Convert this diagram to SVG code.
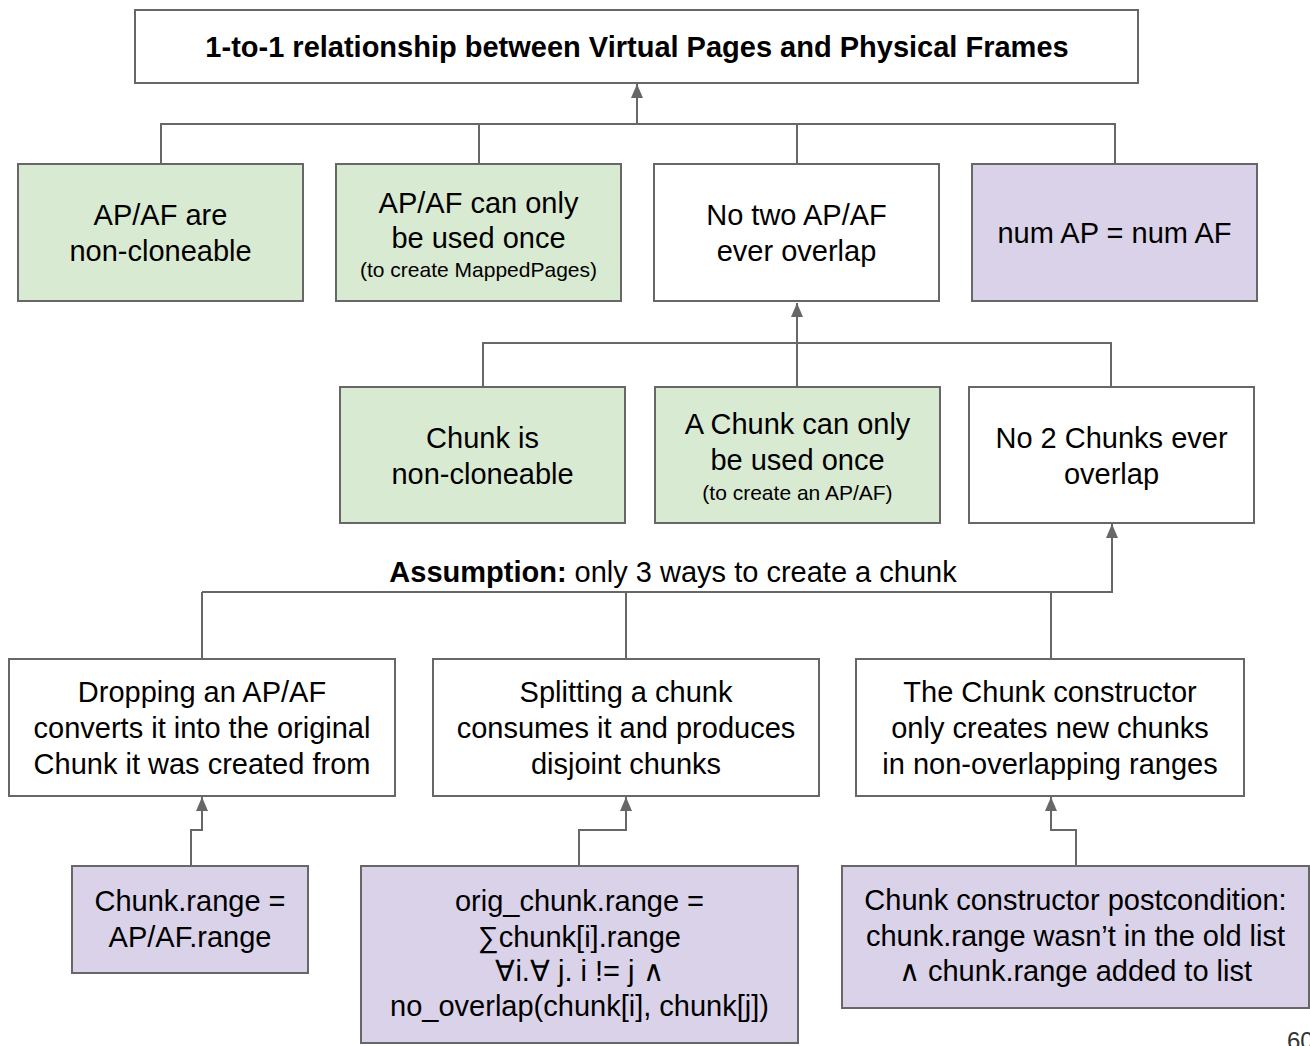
<svg xmlns="http://www.w3.org/2000/svg" width="1310" height="1046" viewBox="0 0 1310 1046">
  <style>
    .box { stroke: #676767; stroke-width: 2; }
    .plain { fill: #ffffff; }
    .green { fill: #d9ead3; }
    .purple { fill: #d9d2e9; }
    .conn { fill: none; stroke: #676767; stroke-width: 2; }
    .arrow { marker-end: url(#arrowhead); }
    text { font-family: "Liberation Sans", Arial, sans-serif; fill: #000; text-anchor: middle; }
    .t { font-size: 29px; }
    .s { font-size: 21px; }
    .title { font-size: 29px; font-weight: bold; }
  </style>
  <defs>
    <!-- filled triangular head, tip at the end of the path -->
    <marker id="arrowhead" markerUnits="userSpaceOnUse" markerWidth="14" markerHeight="12" viewBox="0 0 14 12" refX="14" refY="6" orient="auto">
      <path d="M0,0 L14,6 L0,12 Z" fill="#676767"/>
    </marker>
  </defs>
  <rect width="1310" height="1046" fill="#ffffff"/>

  <g id="connectors">
    <!-- level 1 into the title box -->
    <path class="conn" d="M161,164 V124 H1115 V164 M479,164 V124 M797,164 V124"/>
    <path class="conn arrow" d="M637,124 V84"/>
    <!-- level 2 into "No two AP/AF ever overlap" -->
    <path class="conn" d="M483,387 V343 H1111 V387"/>
    <path class="conn arrow" d="M797,387 V303"/>
    <!-- level 3 into "No 2 Chunks ever overlap" -->
    <path class="conn" d="M202,659 V592 M626,659 V592 M1051,659 V592"/>
    <path class="conn arrow" d="M202,592 H1112 V524"/>
    <!-- level 4 postconditions -->
    <path class="conn arrow" d="M191,866 V830 H202 V797"/>
    <path class="conn arrow" d="M579,866 V830 H626 V797"/>
    <path class="conn arrow" d="M1076,866 V830 H1051 V797"/>
  </g>

  <g id="title-node">
    <rect class="box plain" x="135" y="10" width="1003" height="73"/>
    <text class="title" x="637" y="57">1-to-1 relationship between Virtual Pages and Physical Frames</text>
  </g>

  <g id="ap-af-noncloneable">
    <rect class="box green" x="18" y="164" width="285" height="137"/>
    <text class="t" x="160.5" y="225">AP/AF are</text>
    <text class="t" x="160.5" y="261">non-cloneable</text>
  </g>

  <g id="ap-af-used-once">
    <rect class="box green" x="336" y="164" width="285" height="137"/>
    <text class="t" x="478.5" y="213">AP/AF can only</text>
    <text class="t" x="478.5" y="248">be used once</text>
    <text class="s" x="478.5" y="277">(to create MappedPages)</text>
  </g>

  <g id="ap-af-no-overlap">
    <rect class="box plain" x="654" y="164" width="285" height="137"/>
    <text class="t" x="796.5" y="225">No two AP/AF</text>
    <text class="t" x="796.5" y="261">ever overlap</text>
  </g>

  <g id="num-ap-af">
    <rect class="box purple" x="972" y="164" width="285" height="137"/>
    <text class="t" x="1114.5" y="243">num AP = num AF</text>
  </g>

  <g id="chunk-noncloneable">
    <rect class="box green" x="340" y="387" width="285" height="136"/>
    <text class="t" x="482.5" y="448">Chunk is</text>
    <text class="t" x="482.5" y="484">non-cloneable</text>
  </g>

  <g id="chunk-used-once">
    <rect class="box green" x="655" y="387" width="285" height="136"/>
    <text class="t" x="797.5" y="434">A Chunk can only</text>
    <text class="t" x="797.5" y="470">be used once</text>
    <text class="s" x="797.5" y="500">(to create an AP/AF)</text>
  </g>

  <g id="chunks-no-overlap">
    <rect class="box plain" x="969" y="387" width="285" height="136"/>
    <text class="t" x="1111.5" y="448">No 2 Chunks ever</text>
    <text class="t" x="1111.5" y="484">overlap</text>
  </g>

  <g id="assumption-label">
    <text class="t" x="673" y="582"><tspan font-weight="bold">Assumption:</tspan> only 3 ways to create a chunk</text>
  </g>

  <g id="dropping">
    <rect class="box plain" x="9" y="659" width="386" height="137"/>
    <text class="t" x="202" y="702">Dropping an AP/AF</text>
    <text class="t" x="202" y="738">converts it into the original</text>
    <text class="t" x="202" y="774">Chunk it was created from</text>
  </g>

  <g id="splitting">
    <rect class="box plain" x="433" y="659" width="386" height="137"/>
    <text class="t" x="626" y="702">Splitting a chunk</text>
    <text class="t" x="626" y="738">consumes it and produces</text>
    <text class="t" x="626" y="774">disjoint chunks</text>
  </g>

  <g id="constructor">
    <rect class="box plain" x="856" y="659" width="388" height="137"/>
    <text class="t" x="1050" y="702">The Chunk constructor</text>
    <text class="t" x="1050" y="738">only creates new chunks</text>
    <text class="t" x="1050" y="774">in non-overlapping ranges</text>
  </g>

  <g id="range-post">
    <rect class="box purple" x="72" y="866" width="236" height="107"/>
    <text class="t" x="190" y="911">Chunk.range =</text>
    <text class="t" x="190" y="947">AP/AF.range</text>
  </g>

  <g id="split-post">
    <rect class="box purple" x="361" y="866" width="437" height="177"/>
    <text class="t" x="579.5" y="911">orig_chunk.range =</text>
    <text class="t" x="579.5" y="947">∑chunk[i].range</text>
    <text class="t" x="579.5" y="981">∀i.∀ j. i != j  ∧</text>
    <text class="t" x="579.5" y="1016">no_overlap(chunk[i], chunk[j])</text>
  </g>

  <g id="constructor-post">
    <rect class="box purple" x="842" y="866" width="467" height="142"/>
    <text class="t" x="1075.5" y="910">Chunk constructor postcondition:</text>
    <text class="t" x="1075.5" y="946">chunk.range wasn’t in the old list</text>
    <text class="t" x="1075.5" y="981">∧ chunk.range added to list</text>
  </g>

  <text x="1287" y="1049" style="text-anchor:start; font-size:24px; fill:#333">60</text>
</svg>
